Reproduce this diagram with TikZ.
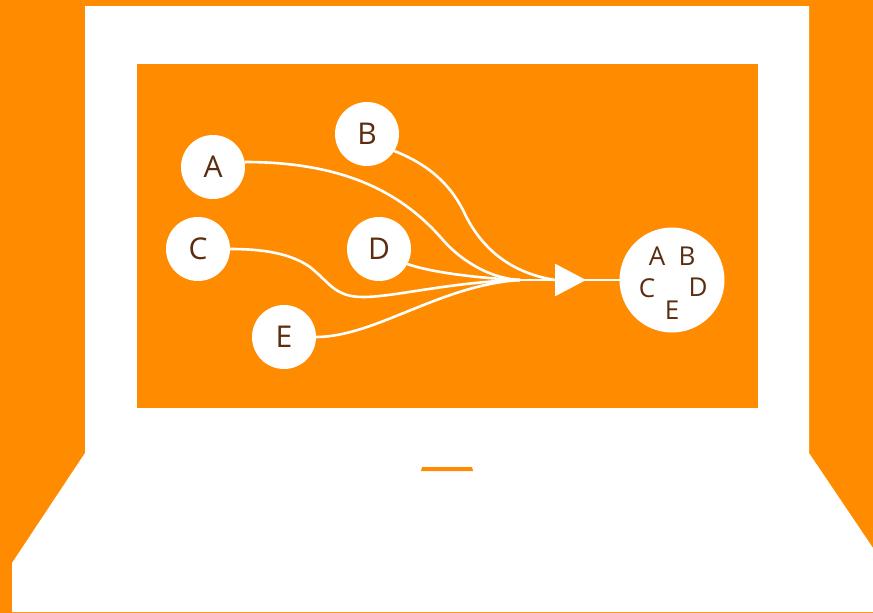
\documentclass[tikz,border=0pt]{standalone}
\usepackage{fontspec}
\setmainfont{Open Sans}
\usetikzlibrary{arrows.meta, positioning}
\definecolor{laptoporange}{HTML}{FF8C00}
\definecolor{letterbrown}{HTML}{5B2C10}

\begin{document}
\begin{tikzpicture}[
  x=1pt, y=-1pt, on grid,
  ball/.style={circle, fill=white, text=letterbrown, minimum size=64pt, inner sep=0pt, outer sep=0pt, font=\fontsize{30}{32}\selectfont},
  bigball/.style={ball, minimum size=105pt},
  letter/.style={text=letterbrown, inner sep=0pt, font=\fontsize{26}{28}\selectfont},
  link/.style={draw=white, line width=2.6pt}
]

\useasboundingbox (0,0) rectangle (873,613);
\fill[laptoporange] (0,0) rectangle (873,613);
\fill[white] (85,6) -- (809,6) -- (809,453) -- (873,548) -- (873,612) -- (12,612) -- (12,563) -- (85,453) -- cycle;
\fill[laptoporange] (137,64) rectangle (758,408);
\fill[laptoporange] (422,467) -- (472,467) -- (473,471) -- (421,471) -- cycle;

\node[ball] (a) at (213,167) {A};
\node[ball, above right=33pt and 154pt of a] (b) {B};
\node[ball, below left=82pt and 15pt of a] (c) {C};
\node[ball, right=181pt of c] (d) {D};
\node[ball, below right=88pt and 86pt of c] (e) {E};
\node[bigball, below right=31pt and 293pt of d] (set) {};
\coordinate (merge) at (520,280);
\coordinate (tip) at (586,280);
\coordinate (base) at (555,280);

\node[letter, above left=24pt and 15pt of set] (seta) {A};
\node[letter, above right=24pt and 15pt of set] (setb) {B};
\node[letter, above left=-8pt and 25pt of set] (setc) {C};
\node[letter, above right=-7pt and 26pt of set] (setd) {D};
\node[letter, below=30pt of set] (sete) {E};

% Connections
\draw[link] (a.9) .. controls (340,162) and (400,190) .. (443,240) .. controls (465,265) and (495,279) .. (merge);
\draw[link] (b.-32) .. controls (430,165) and (450,185) .. (463,210) .. controls (478,243) and (505,272) .. (base);
\draw[link] (c.east) .. controls (262,249) and (290,253) .. (310,267) .. controls (330,283) and (335,297) .. (363,297) .. controls (395,297) and (450,282) .. (merge);
\draw[link] (d.-28) .. controls (430,272) and (475,278) .. (merge);
\draw[link] (e.east) .. controls (375,337) and (440,285) .. (merge);
\draw[link] (merge) -- (set);
\draw[link, -{Triangle[length=31pt, width=32pt]}] (merge) -- (tip);

\end{tikzpicture}
\end{document}
